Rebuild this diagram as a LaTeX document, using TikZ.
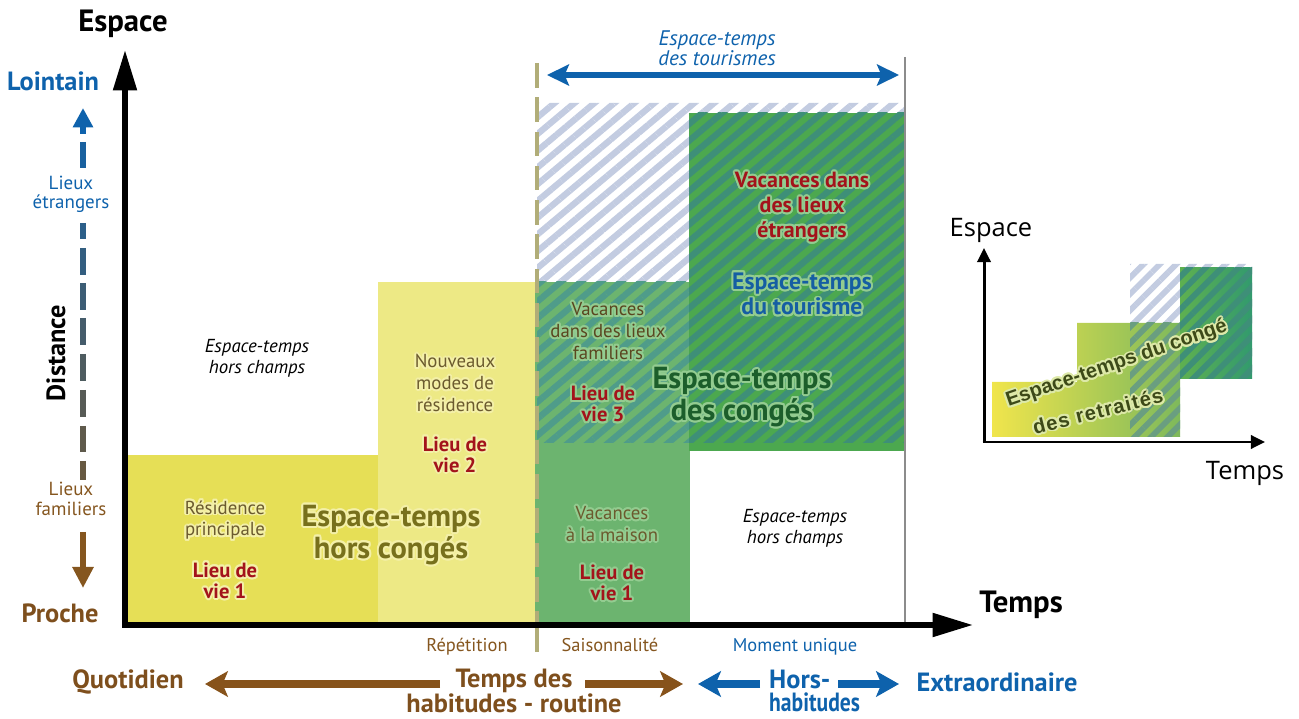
\documentclass[tikz,border=0pt]{standalone}
\usepackage{fontspec}
\setmainfont{PT Sans}
\newfontfamily\arialfont{Liberation Sans}
\newfontfamily\insetfont{Open Sans}
\usepackage{contour}
\contourlength{1.1pt}
\contournumber{16}
\usetikzlibrary{arrows.meta,patterns.meta,positioning}

\definecolor{myblue}{HTML}{0E62AC}
\definecolor{mybrown}{HTML}{7E4F1D}
\definecolor{sidebrown}{HTML}{85561F}
\definecolor{arrowbrown}{HTML}{87531B}
\definecolor{myred}{HTML}{A3131B}
\definecolor{txtbrown}{HTML}{6B5A2E}
\definecolor{txtdark}{HTML}{5A4620}
\definecolor{bigolive}{HTML}{77701C}
\definecolor{darkgreen}{HTML}{1C5E2B}
\definecolor{tourblue}{HTML}{155EA3}
\definecolor{yellowA}{HTML}{E6DF56}
\definecolor{yellowB}{HTML}{EDE985}
\definecolor{greenA}{HTML}{6CB46F}
\definecolor{greenB}{HTML}{4CA84F}
\definecolor{hatchlight}{HTML}{C3CCE1}
\definecolor{hatchA}{HTML}{4F9C8A}
\definecolor{hatchB}{HTML}{3E8F78}
\definecolor{hatchbar}{HTML}{6A9E80}
\definecolor{dashkhaki}{HTML}{B1AD78}
\definecolor{linegray}{HTML}{8C8C8C}
\definecolor{glowyel}{HTML}{F4F0A8}
\definecolor{glowgrn}{HTML}{93CC90}
\definecolor{glowinset}{HTML}{DDE9A8}
\definecolor{insettext}{HTML}{3D4A18}
\definecolor{barleft}{HTML}{F0E54C}
\definecolor{barright}{HTML}{7EB95B}
\definecolor{blockleft}{HTML}{5EB050}
\definecolor{blockright}{HTML}{329A6E}

\colorlet{glowc}{white}
\newcommand{\gl}[1]{\contour{glowc}{#1}}

\begin{document}
\begin{tikzpicture}[x=0.02cm,y=-0.02cm,
  axis/.style={line width=3.2pt,-{Triangle[length=23pt,width=13pt]}},
  thinaxis/.style={line width=1.7pt,-{Triangle[length=8pt,width=7.5pt]}},
  fat/.style={line width=4.5pt,-{Stealth[length=13pt,width=14.5pt,inset=3pt]}},
  hatch/.style={pattern={Lines[angle=40,distance=7.3pt,line width=3.6pt]}},
  smallhatch/.style={pattern={Lines[angle=45,distance=6.6pt,line width=3.3pt]}},
  glow/.style={execute at begin node={\colorlet{glowc}{#1}}},
  txt/.style={font=\fontsize{10.7}{12.4}\selectfont,align=center},
  side/.style={font=\fontsize{10.8}{11}\selectfont,align=center},
  small/.style={font=\fontsize{10.5}{11}\selectfont},
  ital/.style={font=\fontsize{10.7}{12}\selectfont\itshape,align=center},
  lieu/.style={font=\fontsize{11.7}{12}\selectfont\bfseries,text=myred,align=center},
  red/.style={font=\fontsize{12.5}{14.2}\selectfont\bfseries,text=myred,align=center},
  big/.style={font=\fontsize{17.3}{16}\selectfont\bfseries,align=center},
  lbl/.style={font=\fontsize{15}{13.6}\selectfont\bfseries,align=center},
  head/.style={font=\fontsize{17.5}{18}\selectfont\bfseries},
]
\useasboundingbox (0,0) rectangle (1299,719);

\fill[yellowA] (125,455) rectangle (378,625);
\fill[yellowB] (378,282) rectangle (535,625);
\fill[greenA] (535,282) rectangle (690,625);
\fill[greenB] (689,113) rectangle (905,451);
\fill[hatch,pattern color=hatchlight] (537,103) -- (905,103) -- (905,113) -- (689,113) -- (689,282) -- (537,282) -- cycle;
\fill[hatch,pattern color=hatchA] (537,282) rectangle (689,443);
\fill[hatch,pattern color=hatchB] (689,113) rectangle (905,443);
\draw[dashkhaki,line width=2.6pt,dash pattern=on 14pt off 5.5pt] (537,63) -- (537,625);
\draw[dashkhaki,line width=2.6pt] (537,625) -- (537,652);
\draw[linegray,line width=1.2pt] (905,57) -- (905,625);

\coordinate (o) at (125,625);
\coordinate (yend) at (125,50);
\coordinate (xend) at (973,625);
\draw[axis] (o) -- (yend);
\draw[axis] ([xshift=-1.6pt]o) -- (xend);

\coordinate (t1) at (547,75);
\coordinate (t2) at (899,75);
\draw[myblue,line width=3.6pt,{Stealth[length=12.5pt,width=12pt,inset=2.5pt]}-{Stealth[length=12.5pt,width=12pt,inset=2.5pt]}] (t1) -- (t2);
\node[ital,text=myblue,font=\fontsize{12}{11.6}\selectfont\itshape] (tourismes) at (717,48) {Espace-temps\\des tourismes};

\node[head,anchor=base] (esp) at (123,32) {Espace};
\node[head,anchor=base] (tps) at (1021,612) {Temps};
\node[lbl,text=myblue] (loin) at (53,81) {Lointain};
\node[lbl,text=mybrown] (proche) at (60,613) {Proche};
\node[lbl,rotate=90] (dist) at (56,353) {Distance};
\node[side,text=myblue] (etr) at (71,194) {Lieux\\étrangers};
\node[side,text=sidebrown] (fam) at (71,499) {Lieux\\familiers};

\foreach \a/\b in {142/168,223/239,248/275,283/310,318/345,354/381,390/417,426/452,461/480}{
  \pgfmathtruncatemacro\p{((\a+\b)/2-108)/4.8}
  \draw[line width=3.6pt,draw=sidebrown!\p!myblue] (83,\a) -- (83,\b);
}
\draw[line width=3.6pt,myblue,-{Triangle[length=11pt,width=11pt]}] (83,134) -- (83,108);
\draw[line width=3.6pt,sidebrown,-{Triangle[length=12pt,width=11.5pt]}] (83,532) -- (83,588);

\node[ital] (hc1) at (257,358) {Espace-temps\\hors champs};
\node[txt,text=txtbrown,glow=glowyel] (res) at (225,521) {\gl{Résidence}\\\gl{principale}};
\node[lieu,glow=glowyel] (lv1) [below=5pt of res] {\gl{Lieu de}\\\gl{vie 1}};
\node[big,text=bigolive,glow=glowyel] (hcg) at (391,536) {\gl{Espace-temps}\\\gl{hors congés}};
\node[txt,text=txtbrown,glow=glowyel] (nouv) at (455,384) {\gl{Nouveaux}\\\gl{modes de}\\\gl{résidence}};
\node[lieu,glow=glowyel] (lv2) [below=6pt of nouv] {\gl{Lieu de}\\\gl{vie 2}};
\node[txt,text=txtdark,glow=glowgrn] (vfam) at (608,332) {\gl{Vacances}\\\gl{dans des lieux}\\\gl{familiers}};
\node[lieu,glow=glowgrn] (lv3) at (603,405) {\gl{Lieu de}\\\gl{vie 3}};
\node[big,text=darkgreen,glow=glowgrn] (cong) at (742,398) {\gl{Espace-temps}\\\gl{des congés}};
\node[red,glow=glowgrn] (vetr) at (802,208) {\gl{Vacances dans}\\\gl{des lieux}\\\gl{étrangers}};
\node[red,text=tourblue,font=\fontsize{13.5}{14.6}\selectfont\bfseries,glow=glowgrn] (tour) at (802,295) {\gl{Espace-temps}\\\gl{du tourisme}};
\node[txt,text=txtbrown,glow=glowgrn] (vmai) at (612,525) {\gl{Vacances}\\\gl{à la maison}};
\node[lieu,glow=glowgrn] (lv1b) [below=5pt of vmai] {\gl{Lieu de}\\\gl{vie 1}};
\node[ital] (hc2) at (795,528) {Espace-temps\\hors champs};

\node[small,text=sidebrown,anchor=base] (rep) at (467,651) {Répétition};
\node[small,text=sidebrown,anchor=base] (sais) at (610,651) {Saisonnalité};
\node[small,text=myblue,anchor=base] (mom) at (795,651) {Moment unique};

\node[lbl,text=mybrown] (quot) at (128,682) {Quotidien};
\node[lbl,text=mybrown,inner ysep=0pt] (hab) at (514,691) {Temps des\\habitudes - routine};
\node[lbl,text=myblue,align=left,anchor=west,inner ysep=0pt] (hors) at (763,691) {Hors-\\{\addfontfeature{FakeStretch=0.82}habitudes}};
\node[lbl,text=myblue] (extra) at (997,682) {Extraordinaire};
\coordinate (b1) at (440,684);
\coordinate (b2) at (205,684);
\coordinate (b3) at (585,684);
\coordinate (b4) at (683,684);
\coordinate (b5) at (760,684);
\coordinate (b6) at (698,684);
\coordinate (b7) at (838,684);
\coordinate (b8) at (899,684);
\draw[fat,arrowbrown] (b1) -- (b2);
\draw[fat,arrowbrown] (b3) -- (b4);
\draw[fat,myblue] (b5) -- (b6);
\draw[fat,myblue] (b7) -- (b8);

\shade[left color=barleft,right color=barright] (992,382) -- (1077,382) -- (1077,323) -- (1180,323) -- (1180,437) -- (992,437) -- cycle;
\shade[left color=blockleft,right color=blockright] (1180,268) rectangle (1252,379);
\fill[smallhatch,pattern color=hatchlight] (1130,264) -- (1252,264) -- (1252,268) -- (1180,268) -- (1180,323) -- (1130,323) -- cycle;
\fill[smallhatch,pattern color=hatchbar] (1130,323) rectangle (1180,437);
\fill[smallhatch,pattern color=hatchB] (1180,268) rectangle (1252,379);
\coordinate (io) at (984,442);
\coordinate (iy) at (984,248);
\coordinate (ix) at (1265,442);
\draw[thinaxis] (io) -- (iy);
\draw[thinaxis] ([xshift=-0.85pt]io) -- (ix);
\node[font=\insetfont\fontsize{14.5}{15}\selectfont,anchor=base] (iesp) at (991,237) {Espace};
\node[font=\insetfont\fontsize{14.5}{15}\selectfont,anchor=base] (itps) at (1245,480) {Temps};
\node[font=\arialfont\bfseries\fontsize{11.5}{12}\selectfont,text=insettext,glow=glowinset,rotate=19] (r1) at (1117,365) {\gl{Espace-temps du congé}};
\node[font=\arialfont\bfseries\fontsize{11.5}{12}\selectfont\addfontfeature{LetterSpace=6},text=insettext,glow=glowinset,rotate=14] (r2) at (1098,412) {\gl{des retraités}};
\end{tikzpicture}
\end{document}
